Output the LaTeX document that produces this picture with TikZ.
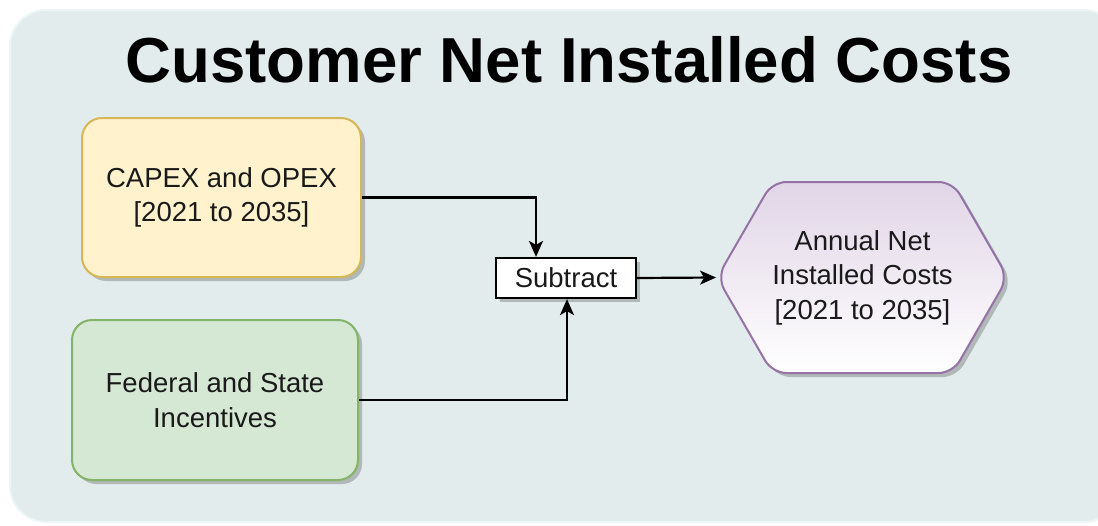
\documentclass[tikz,border=0pt]{standalone}
\usepackage{fontspec}
\setmainfont{Liberation Sans}
\usetikzlibrary{shapes.symbols,shadows,calc,arrows.meta}
\definecolor{panel}{HTML}{E3ECEC}
\definecolor{panelrim}{HTML}{EDF5F6}
\definecolor{capexfill}{HTML}{FFF2CC}
\definecolor{capexline}{HTML}{D6B656}
\definecolor{incfill}{HTML}{D5E8D4}
\definecolor{incline}{HTML}{82B366}
\definecolor{hexfill}{HTML}{E1D5E7}
\definecolor{hexline}{HTML}{9673A6}
\definecolor{txt}{HTML}{1A1A1A}
\tikzset{
  boxshadow/.style={drop shadow={shadow xshift=4pt, shadow yshift=-4pt, fill=black, opacity=0.22}},
  boxtext/.style={font=\fontsize{27.5}{34.5}\selectfont, text=txt, align=center, inner sep=0pt},
  inputbox/.style={boxtext, rounded corners=20pt, line width=2pt, boxshadow},
  opbox/.style={boxtext, draw=black, fill=white, line width=2.2pt, boxshadow},
  flow/.style={line width=2.2pt, -{Stealth[length=16pt,width=14pt,inset=4pt]}}
}
\begin{document}
\begin{tikzpicture}[x=1pt,y=-1pt]
  \useasboundingbox (0,0) rectangle (1098,525);
  % background panel
  \fill[white] (0,0) rectangle (1098,525);
  \draw[fill=panel, draw=panelrim, line width=2pt, rounded corners=36pt] (10,10) rectangle (1120,522);
  % title
  \node[anchor=base, font=\bfseries\fontsize{63.6}{70}\selectfont, inner sep=0pt] (title) at (569,82) {Customer Net Installed Costs};
  % inputs
  \node[inputbox, fill=capexfill, draw=capexline, minimum width=279pt, minimum height=159pt] (capex) at (221.5,197.5) {CAPEX and OPEX\\{[2021 to 2035]}};
  \node[inputbox, fill=incfill, draw=incline, minimum width=286pt, minimum height=160pt] (inc) at (215,400) {Federal and State\\Incentives};
  % operation
  \node[opbox, minimum width=140pt, minimum height=40pt] (sub) at (566,278) {Subtract};
  % result
  \node[boxtext, signal, signal from=nowhere, signal to=east and west, signal pointer angle=120,
        minimum width=281pt, minimum height=191pt, rounded corners=14pt,
        draw=hexline, line width=2pt, top color=hexfill, bottom color=white, boxshadow] (net) at (862.5,277.5)
        {Annual Net\\Installed Costs\\{[2021 to 2035]}};
  % connectors
  \draw[flow] (capex.east) -| ($(sub.north)+(-30,0)$);
  \draw[flow] (inc.east) -| ($(sub.south)+(1,0)$);
  \draw[flow] (sub.east) -- (net.west);
\end{tikzpicture}
\end{document}
